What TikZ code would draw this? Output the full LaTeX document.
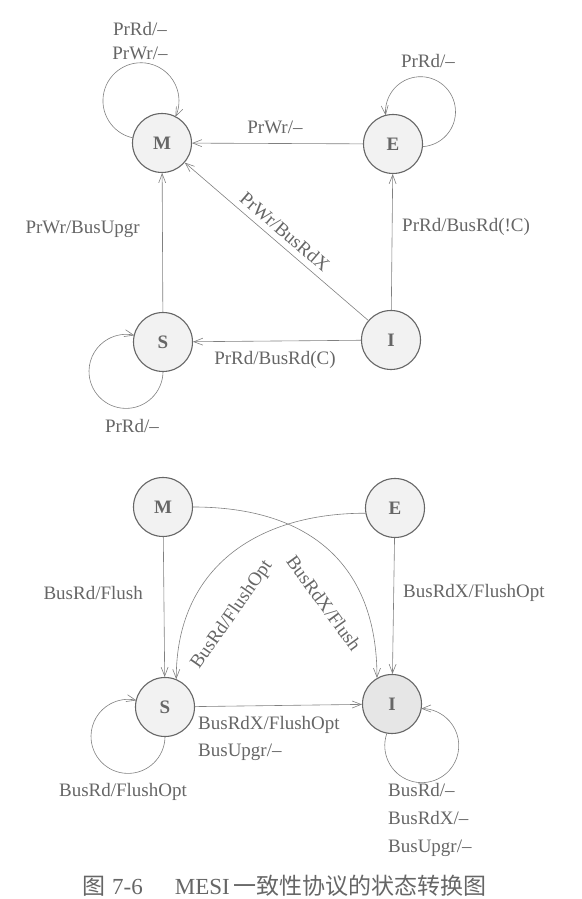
\documentclass[tikz,border=0pt]{standalone}
\usepackage{fontspec}
\setmainfont{Liberation Serif}
\newfontfamily\cjk{Noto Sans CJK SC}
\usetikzlibrary{arrows.meta}
\definecolor{linegray}{HTML}{808080}
\definecolor{stateline}{HTML}{666666}
\definecolor{statefill}{HTML}{F2F2F2}
\definecolor{ifill}{HTML}{E6E6E6}
\definecolor{textgray}{HTML}{666666}

\begin{document}
\begin{tikzpicture}[x=1pt,y=1pt,line cap=round,line join=round,>={Straight Barb[length=9pt,width=7pt]},
    state/.style={circle,draw=stateline,line width=1.1pt,fill=statefill,minimum size=59pt,inner sep=0pt,text=textgray,font=\fontsize{19}{22}\selectfont\bfseries},
    trans/.style={->,color=linegray,line width=0.6pt},
    lbl/.style={text=textgray,inner sep=0pt,font=\fontsize{19}{22}\selectfont}]
  \useasboundingbox (0,0) rectangle (581,899);
  % upper diagram: processor requests
  \node[state] (M1) at (162,756) {M};
  \node[state] (E1) at (393,755) {E};
  \node[state] (S1) at (163,557) {S};
  \node[state] (I1) at (391,559) {I};
  \draw[trans] (E1) -- (M1);
  \draw[trans] (S1) -- (M1);
  \draw[trans] (I1) -- (M1) node[lbl,pos=0.5,sloped,above=6pt] (lIM) {PrWr/BusRdX};
  \draw[trans] (I1) -- (E1);
  \draw[trans] (I1) -- (S1);
  \draw[trans] (M1.170) arc[start angle=-103,end angle=-385,radius=38];
  \draw[trans] (E1.-5) arc[start angle=-86,end angle=186,radius=35];
  \draw[trans] (S1.-90) arc[start angle=-1,end angle=-283,radius=37];
  \node[lbl] (lMa) at (140,870) {PrRd/--};
  \node[lbl] (lMb) at (140,846) {PrWr/--};
  \node[lbl] (lEE) at (428,838) {PrRd/--};
  \node[lbl] (lEM) at (275,772) {PrWr/--};
  \node[lbl,anchor=east] (lSM) at (140,670) {PrWr/BusUpgr};
  \node[lbl,anchor=west] (lIE) at (402,672) {PrRd/BusRd(!C)};
  \node[lbl] (lIS) at (275,539) {PrRd/BusRd(C)};
  \node[lbl] (lSS) at (132,473) {PrRd/--};
  % lower diagram: bus requests
  \node[state] (M2) at (163,392) {M};
  \node[state] (E2) at (395,391) {E};
  \node[state] (S2) at (165,192) {S};
  \node[state,fill=ifill] (I2) at (392,195) {I};
  \draw[trans] (M2) -- (S2);
  \draw[trans] (E2) -- (I2);
  \draw[trans] (S2) -- (I2);
  \draw[trans] (M2.east) .. controls +(118,0) and +(0,112) .. (I2.120);
  \draw[trans] (E2.190) .. controls +(-110,0) and +(0,110) .. (S2.68);
  \draw[trans] (S2.-90) arc[start angle=-1,end angle=-283,radius=37];
  \draw[trans] (I2.-100) arc[start angle=161,end angle=451,radius=37];
  \node[lbl,anchor=east] (lMS) at (143,306) {BusRd/Flush};
  \node[lbl,anchor=west] (lEI) at (403,306) {BusRdX/FlushOpt};
  \node[lbl,rotate=-54] (lMI) at (324,296) {BusRdX/Flush};
  \node[lbl,rotate=55] (lES) at (232,284) {BusRd/FlushOpt};
  \node[lbl,anchor=west] (lSIa) at (198,174) {BusRdX/FlushOpt};
  \node[lbl,anchor=west] (lSIb) at (198,147) {BusUpgr/--};
  \node[lbl] (lSS2) at (123,107) {BusRd/FlushOpt};
  \node[lbl,anchor=west] (lIIa) at (388,109) {BusRd/--};
  \node[lbl,anchor=west] (lIIb) at (388,81) {BusRdX/--};
  \node[lbl,anchor=west] (lIIc) at (388,51) {BusUpgr/--};
  % caption
  \node[lbl,anchor=base west,font=\fontsize{23}{27}\selectfont] (cap) at (82,5)
    {{\cjk 图}\hspace{0.3em}7-6\hspace{1.4em}MESI\hspace{0.15em}{\cjk 一致性协议的状态转换图}};
\end{tikzpicture}
\end{document}
